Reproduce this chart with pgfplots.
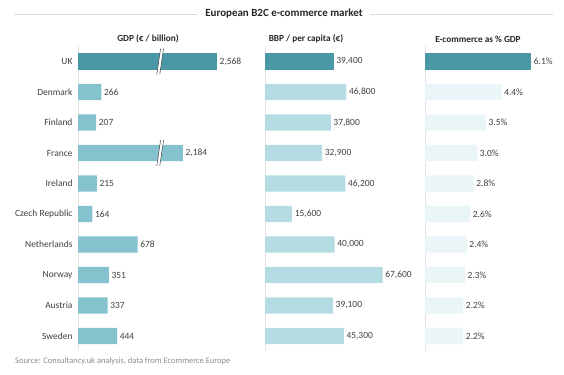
\documentclass[border=0pt]{standalone}
\usepackage{pgfplots}
\pgfplotsset{compat=1.18}
\usepackage{fontspec}
\setmainfont{Carlito}
\definecolor{ukc}{HTML}{4A98A6}
\definecolor{gdpc}{HTML}{84C2CD}
\definecolor{bbpc}{HTML}{B6DCE3}
\definecolor{ecc}{HTML}{EAF5F7}
\definecolor{txt}{HTML}{404040}
\definecolor{hdr}{HTML}{262626}
\definecolor{src}{HTML}{8C8C8C}
\pgfplotsset{
  panel/.style={
    scale only axis, height=305bp, ymin=-0.5, ymax=9.5, y dir=reverse,
    xmin=0, clip=false, axis y line*=left, hide x axis,
    y axis line style={draw=black!10, line width=0.5pt},
    ytick={0,...,9}, major tick length=0pt,
    xbar, bar width=0.54,
    point meta=explicit symbolic,
    nodes near coords,
    every node near coord/.style={anchor=west, font=\fontsize{9.5}{11}\selectfont, text=txt, inner sep=2.5pt},
    anchor=north west,
  },
}
\begin{document}
\begin{tikzpicture}
\useasboundingbox (0,0) rectangle (564bp,-375bp);
% title
\node[font=\bfseries\fontsize{11}{13}\selectfont, text=hdr] at (284bp,-14bp) {European B2C e-commerce market};
\draw[black!15, line width=0.6pt] (14bp,-14bp) -- (197bp,-14bp);
\draw[black!15, line width=0.6pt] (370bp,-14bp) -- (553bp,-14bp);
% headers
\node[font=\bfseries\fontsize{9.3}{11}\selectfont, text=hdr] at (148bp,-39bp) {GDP (€ / billion)};
\node[font=\bfseries\fontsize{9.3}{11}\selectfont, text=hdr] at (306bp,-39bp) {BBP / per capita (€)};
\node[font=\bfseries\fontsize{9.3}{11}\selectfont, text=hdr] at (478bp,-39bp) {E-commerce as \% GDP};
% source
\node[anchor=west, font=\fontsize{8.5}{10}\selectfont, text=src, inner sep=0pt] at (15bp,-361bp) {Source: Consultancy.uk analysis, data from Ecommerce Europe};

% panel 1: GDP
\begin{axis}[panel, at={(78bp,-46.25bp)}, width=140bp, xmax=1591,
  yticklabels={UK,Denmark,Finland,France,Ireland,Czech Republic,Netherlands,Norway,Austria,Sweden},
  yticklabel style={font=\fontsize{9.5}{11}\selectfont, text=txt, xshift=-2pt}]
\addplot[fill=ukc, draw=none, bar shift=0pt] table[x=d, y=y, meta=l] {
y d l
0 1580 2,568
};
\addplot[fill=gdpc, draw=none, bar shift=0pt] table[x=d, y=y, meta=l] {
y d l
1 266 266
2 207 207
3 1193 2,184
4 215 215
5 164 164
6 678 678
7 351 351
8 337 337
9 444 444
};
% axis breaks on the UK and France bars
\fill[white] ([xshift=-3.4pt]axis cs:934,0.42) -- ([xshift=-0.4pt]axis cs:934,0.42) -- ([xshift=3.4pt]axis cs:934,-0.42) -- ([xshift=0.4pt]axis cs:934,-0.42) -- cycle;
\draw[txt, line width=0.5pt] ([xshift=-3.4pt]axis cs:934,0.42) -- ([xshift=0.4pt]axis cs:934,-0.42);
\draw[txt, line width=0.5pt] ([xshift=-0.4pt]axis cs:934,0.42) -- ([xshift=3.4pt]axis cs:934,-0.42);
\fill[white] ([xshift=-3.4pt]axis cs:934,3.42) -- ([xshift=-0.4pt]axis cs:934,3.42) -- ([xshift=3.4pt]axis cs:934,2.58) -- ([xshift=0.4pt]axis cs:934,2.58) -- cycle;
\draw[txt, line width=0.5pt] ([xshift=-3.4pt]axis cs:934,3.42) -- ([xshift=0.4pt]axis cs:934,2.58);
\draw[txt, line width=0.5pt] ([xshift=-0.4pt]axis cs:934,3.42) -- ([xshift=3.4pt]axis cs:934,2.58);
\end{axis}

% panel 2: BBP per capita
\begin{axis}[panel, at={(265bp,-46.25bp)}, width=121.8bp, xmax=70000, yticklabels={}]
\addplot[fill=ukc, draw=none, bar shift=0pt] table[x=d, y=y, meta=l] {
y d l
0 39400 39,400
};
\addplot[fill=bbpc, draw=none, bar shift=0pt] table[x=d, y=y, meta=l] {
y d l
1 46800 46,800
2 37800 37,800
3 32900 32,900
4 46200 46,200
5 15600 15,600
6 40000 40,000
7 67600 67,600
8 39100 39,100
9 45300 45,300
};
\end{axis}

% panel 3: e-commerce share of GDP
\begin{axis}[panel, at={(425bp,-46.25bp)}, width=121.8bp, xmax=7, yticklabels={},
  nodes near coords={\pgfplotspointmeta\%}]
\addplot[fill=ukc, draw=none, bar shift=0pt] table[x=d, y=y, meta=l] {
y d l
0 6.1 6.1
};
\addplot[fill=ecc, draw=none, bar shift=0pt] table[x=d, y=y, meta=l] {
y d l
1 4.4 4.4
2 3.5 3.5
3 3.0 3.0
4 2.8 2.8
5 2.6 2.6
6 2.4 2.4
7 2.3 2.3
8 2.2 2.2
9 2.2 2.2
};
\end{axis}
\end{tikzpicture}
\end{document}
